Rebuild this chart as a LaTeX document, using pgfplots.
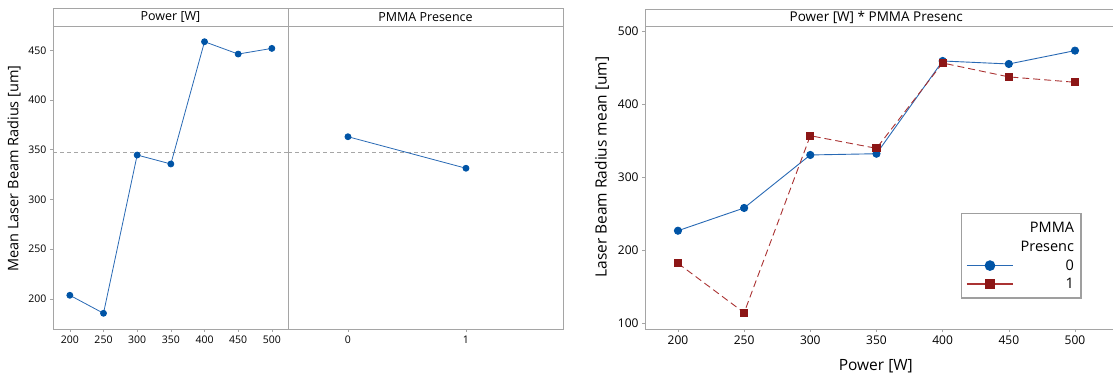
\documentclass[border=0pt]{standalone}
\usepackage{pgfplots}
\pgfplotsset{compat=1.18}
\usepackage{fontspec}
\setmainfont{Open Sans}
\definecolor{mblue}{RGB}{0,84,166}
\definecolor{lblue}{RGB}{40,105,180}
\definecolor{mred}{RGB}{140,22,22}
\definecolor{lred}{RGB}{170,50,50}
\definecolor{frm}{RGB}{165,165,165}
\pgfplotsset{
  base/.style={
    scale only axis, anchor=south west,
    axis line style={frm, line width=0.9pt},
    tick style={frm, line width=0.6pt},
    tick align=outside, major tick length=3pt,
    xtick pos=bottom, ytick pos=left,
    /pgf/number format/assume math mode=true,
    /pgf/number format/1000 sep={},
    clip=false,
  },
}
\begin{document}
\begin{tikzpicture}
\useasboundingbox (0,0) rectangle (1113pt,378pt);
% ---------- Panel 1: Power ----------
\begin{axis}[base,
  at={(53pt,49pt)}, width=235pt, height=321pt,
  xmin=175, xmax=524, ymin=169.8, ymax=492.5,
  xtick={200,250,300,350,400,450,500},
  ytick={200,250,300,350,400,450},
  tick label style={font=\fontsize{10.5}{12}\selectfont},
  ylabel={Mean Laser Beam Radius [um]},
  ylabel style={at={(axis description cs:-0.166,0.5)}, anchor=center, font=\fontsize{14.5}{16}\selectfont},
]
\addplot[gray!70, dashed, line width=0.6pt, dash pattern=on 4pt off 3pt] coordinates {(175,347.35) (524,347.35)};
\addplot[lblue, line width=0.8pt, mark=*, mark size=3pt, mark options={mblue, fill=mblue, solid}]
  coordinates {(200,203.7) (250,185.6) (300,344.7) (350,335.7) (400,458.6) (450,446.2) (500,451.9)};
\draw[frm, line width=0.9pt] (rel axis cs:0,0.944) -- (rel axis cs:1,0.944);
\node[font=\fontsize{12.5}{14}\selectfont] at (rel axis cs:0.5,0.972) {Power [W]};
\end{axis}
% ---------- Panel 2: PMMA ----------
\begin{axis}[base,
  at={(288pt,49pt)}, width=275pt, height=321pt,
  xmin=-0.508, xmax=1.822, ymin=169.8, ymax=492.5,
  xtick={0,1}, ytick=\empty,
  tick label style={font=\fontsize{10.5}{12}\selectfont},
]
\addplot[gray!70, dashed, line width=0.6pt, dash pattern=on 4pt off 3pt] coordinates {(-0.508,347.35) (1.822,347.35)};
\addplot[lblue, line width=0.8pt, mark=*, mark size=3pt, mark options={mblue, fill=mblue, solid}]
  coordinates {(0,363.1) (1,331.4)};
\draw[frm, line width=0.9pt] (rel axis cs:0,0.944) -- (rel axis cs:1,0.944);
\node[font=\fontsize{12.5}{14}\selectfont] at (rel axis cs:0.5,0.972) {PMMA Presence};
\end{axis}
% ---------- Interaction ----------
\begin{axis}[base,
  at={(645pt,49pt)}, width=471pt, height=320pt,
  xmin=175.1, xmax=531, ymin=92.2, ymax=531.1,
  xtick={200,250,300,350,400,450,500},
  ytick={100,200,300,400,500},
  tick label style={font=\fontsize{12}{14}\selectfont},
  ylabel={Laser Beam Radius mean [um]},
  ylabel style={at={(axis description cs:-0.0913,0.506)}, anchor=center, font=\fontsize{15.5}{17}\selectfont},
  xlabel={Power [W]},
  xlabel style={at={(axis description cs:0.49,-0.116)}, anchor=center, font=\fontsize{15.5}{17}\selectfont},
  legend style={at={(axis description cs:0.67,0.3625)}, anchor=north west,
    draw=gray!75, line width=1.4pt, font=\fontsize{14.5}{19.5}\selectfont,
    inner xsep=5pt, inner ysep=6pt, row sep=2.5pt, column sep=5pt},
  legend cell align=right,
  legend image code/.code={\draw[solid, line width=1.4pt, mark repeat=2, mark phase=2, mark size=4.6pt] plot coordinates {(0pt,0pt) (23pt,0pt) (46pt,0pt)};},
]
\addlegendimage{empty legend}
\addlegendentry[align=right]{PMMA\\Presenc}
\addplot[lblue, line width=0.9pt, mark=*, mark size=3.6pt, mark options={mblue, fill=mblue, solid}]
  coordinates {(200,227.0) (250,258.2) (300,330.9) (350,332.6) (400,459.8) (450,455.7) (500,474.0)};
\addlegendentry{0}
\addplot[lred, line width=0.9pt, dash pattern=on 7pt off 4pt, mark=square*, mark size=3.6pt, mark options={mred, fill=mred, solid}]
  coordinates {(200,182.3) (250,114.5) (300,357.3) (350,340.0) (400,457.0) (450,438.0) (500,430.6)};
\addlegendentry{1}
\draw[frm, line width=0.9pt] (rel axis cs:0,0.947) -- (rel axis cs:1,0.947);
\node[font=\fontsize{13.5}{15}\selectfont] at (rel axis cs:0.491,0.9735) {Power [W] * PMMA Presenc};
\end{axis}
\end{tikzpicture}
\end{document}
